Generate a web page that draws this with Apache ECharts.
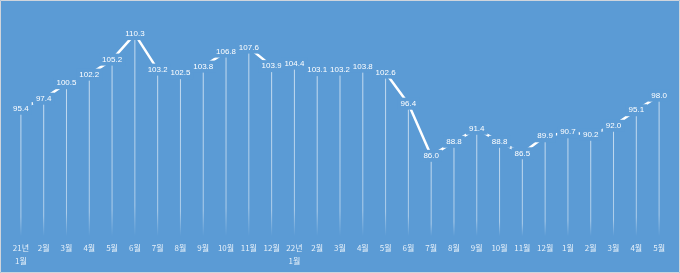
<!DOCTYPE html>
<html><head><meta charset="utf-8">
<script src="https://cdn.jsdelivr.net/npm/echarts@6/dist/echarts.min.js"></script>
<style>html,body{margin:0;padding:0;background:#5B9BD5}#c{width:680px;height:273px}</style>
</head><body><div id="c"></div>
<script>
const categories = ['21년\n1월','2월','3월','4월','5월','6월','7월','8월','9월','10월','11월','12월',
  '22년\n1월','2월','3월','4월','5월','6월','7월','8월','9월','10월','11월','12월',
  '1월','2월','3월','4월','5월'];
const values = [95.4,97.4,100.5,102.2,105.2,110.3,103.2,102.5,103.8,106.8,107.6,103.9,
  104.4,103.1,103.2,103.8,102.6,96.4,86.0,88.8,91.4,88.8,86.5,89.9,
  90.7,90.2,92.0,95.1,98.0];
const BG = '#5B9BD5';
const chart = echarts.init(document.getElementById('c'));
chart.setOption({
  backgroundColor: BG,
  animation: false,
  grid: {left: 9.5, right: 9.5, top: 10.5, bottom: 37},
  xAxis: {
    type: 'category', data: categories, boundaryGap: true,
    axisLine: {show: false}, axisTick: {show: false}, splitLine: {show: false},
    axisLabel: {color: 'rgba(255,255,255,0.85)', fontSize: 8, lineHeight: 12.5, margin: 6,
      fontFamily: '"Noto Sans CJK KR", sans-serif', interval: 0}
  },
  yAxis: {type: 'value', min: 70, max: 115, show: false, splitLine: {show: false}},
  graphic: [{type: 'rect', shape: {x: 0.5, y: 0.5, width: 679, height: 272},
    style: {fill: 'none', stroke: '#D0D5DC', lineWidth: 1}, silent: true}],
  series: [
    {
      type: 'bar', data: values, barWidth: 1, z: 1,
      itemStyle: {color: new echarts.graphic.LinearGradient(0, 0, 0, 1, [
        {offset: 0, color: 'rgba(255,255,255,0.65)'},
        {offset: 0.85, color: 'rgba(255,255,255,0.5)'},
        {offset: 1, color: 'rgba(255,255,255,0)'}])}
    },
    {
      type: 'line', data: values, z: 2,
      symbol: 'circle', symbolSize: 1, showSymbol: true,
      itemStyle: {color: '#fff'},
      lineStyle: {color: '#fff', width: 2.5},
      label: {show: true, position: 'inside', color: '#fff', fontSize: 8,
        fontFamily: '"Liberation Sans", Arial, sans-serif',
        backgroundColor: BG, padding: [2, 3, 2, 3],
        formatter: p => p.value.toFixed(1)}
    }
  ]
});
</script></body></html>
